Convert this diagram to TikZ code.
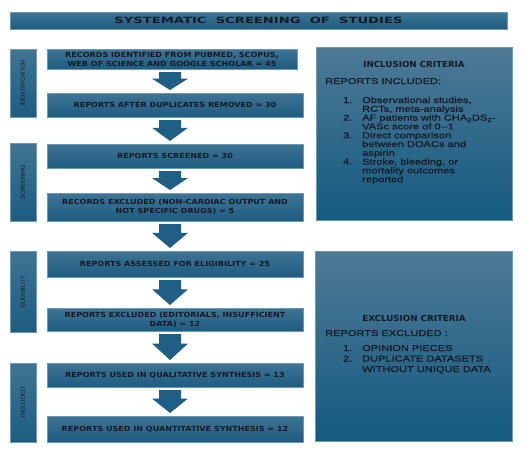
\documentclass[tikz,border=0pt]{standalone}
\usepackage{fontspec}
\setmainfont{Liberation Sans}
\newfontfamily\boxfont[FakeStretch=1.15]{DejaVu Sans}
\newfontfamily\titlefont[FakeStretch=1.2]{DejaVu Sans}
\newfontfamily\sidefont[FakeStretch=1.3, FakeBold=0.4]{Liberation Sans}
\newfontfamily\sidehead[FakeStretch=1.05]{DejaVu Sans}
\usetikzlibrary{calc}
\definecolor{boxtop}{HTML}{3F7494}
\definecolor{boxbot}{HTML}{1D5C81}
\definecolor{edgec}{HTML}{6C9AB6}
\definecolor{arrowc}{HTML}{1F5F86}
\definecolor{txt}{HTML}{161A24}
\definecolor{sidetop}{HTML}{4E7A96}
\definecolor{sidebot}{HTML}{145A80}
\newcommand\blockarrow[2]{%
  \coordinate (bt) at ($(#1.south -| ax)+(0,3)$);
  \coordinate (bh) at ($(#2.north -| ax)+(0,-3)$);
  \coordinate (bm) at ($(bt)!0.37!(bh)$);
  \fill[arrowc] ($(bt)+(-11,0)$) -- ($(bt)+(11,0)$) -- ($(bm)+(11,0)$) -- ($(bm)+(18,0)$)
    -- (bh) -- ($(bm)+(-18,0)$) -- ($(bm)+(-11,0)$) -- cycle;}
\begin{document}
\begin{tikzpicture}[x=1pt,y=-1pt,
  bluebox/.style={rectangle, inner sep=0pt, outer sep=0pt, top color=boxtop, bottom color=boxbot, draw=edgec, line width=0.5pt, text=txt},
  mainbox/.style={bluebox, align=center, font=\boxfont\bfseries\fontsize{7}{9}\selectfont},
  phasebox/.style={bluebox, minimum width=26pt, font=\fontsize{5.8}{7}\selectfont},
  sidebox/.style={rectangle, inner sep=0pt, outer sep=0pt, top color=sidetop, bottom color=sidebot, draw=edgec, line width=0.5pt},
  sidetext/.style={text=txt, inner sep=0pt, font=\sidefont\fontsize{8.5}{8.8}\selectfont},
  headtext/.style={text=txt, inner sep=0pt, font=\sidehead\bfseries\fontsize{8.3}{10}\selectfont},
]
\useasboundingbox[fill=white] (0,0) rectangle (528,461);
\coordinate (ax) at (170,0);

% title
\node[bluebox, minimum width=497pt, minimum height=17pt, font=\titlefont\bfseries\fontsize{9}{10}\selectfont] (title) at (258.5,20.5) {\resizebox{288pt}{6.4pt}{SYSTEMATIC\ \ SCREENING\ \ OF\ \ STUDIES}};

% phase boxes
\node[phasebox, minimum height=68pt] (p1) at (23,83) {\rotatebox{90}{IDENTIFICATION}};
\node[phasebox, minimum height=78pt] (p2) at (23,182) {\rotatebox{90}{SCREENING}};
\node[phasebox, minimum height=81pt] (p3) at (23,291.5) {\rotatebox{90}{ELIGIBILITY}};
\node[phasebox, minimum height=79pt] (p4) at (23,402.5) {\rotatebox{90}{INCLUDED}};

% main boxes
\node[mainbox, minimum width=250pt, minimum height=20pt] (b1) at (172,59) {RECORDS IDENTIFIED FROM PUBMED, SCOPUS,\\WEB OF SCIENCE AND GOOGLE SCHOLAR = 45};
\node[mainbox, minimum width=256pt, minimum height=24pt] (b2) at (175,105) {REPORTS AFTER DUPLICATES REMOVED = 30};
\node[mainbox, minimum width=256pt, minimum height=24pt] (b3) at (175,156) {REPORTS SCREENED = 30};
\node[mainbox, minimum width=256pt, minimum height=28pt] (b4) at (175,207) {RECORDS EXCLUDED (NON-CARDIAC OUTPUT AND\\NOT SPECIFIC DRUGS) = 5};
\node[mainbox, minimum width=256pt, minimum height=26pt] (b5) at (175,264) {REPORTS ASSESSED FOR ELIGIBILITY = 25};
\node[mainbox, minimum width=256pt, minimum height=23pt] (b6) at (175,319.5) {REPORTS EXCLUDED (EDITORIALS, INSUFFICIENT\\DATA) = 12};
\node[mainbox, minimum width=256pt, minimum height=24pt] (b7) at (175,375) {REPORTS USED IN QUALITATIVE SYNTHESIS = 13};
\node[mainbox, minimum width=256pt, minimum height=26pt] (b8) at (175,429) {REPORTS USED IN QUANTITATIVE SYNTHESIS = 12};

\blockarrow{b1}{b2}
\blockarrow{b2}{b3}
\blockarrow{b3}{b4}
\blockarrow{b4}{b5}
\blockarrow{b5}{b6}
\blockarrow{b6}{b7}
\blockarrow{b7}{b8}

% inclusion criteria
\node[sidebox, minimum width=196pt, minimum height=173pt] (inc) at (414,133.5) {};
\node[headtext, anchor=base] (inch) at (414,67) {INCLUSION CRITERIA};
\node[sidetext, anchor=base west] (incs) at (325,84) {REPORTS INCLUDED:};
\node[sidetext, anchor=base west] (incl) at (343,103) {%
\renewcommand{\arraystretch}{1}%
\begin{tabular}[t]{@{}p{19pt}@{}l@{}}
1. & Observational studies,\\
   & RCTs, meta-analysis\\
2. & AF patients with CHA\textsubscript{2}DS\textsubscript{2}-\\
   & VASc score of 0--1\\
3. & Direct comparison\\
   & between DOACs and\\
   & aspirin\\
4. & Stroke, bleeding, or\\
   & mortality outcomes\\
   & reported
\end{tabular}};

% exclusion criteria
\node[sidebox, minimum width=197pt, minimum height=190pt] (exc) at (413.5,346) {};
\node[headtext, anchor=base] (exch) at (414,321) {EXCLUSION CRITERIA};
\node[sidetext, anchor=base west] (excs) at (325,336) {REPORTS EXCLUDED :};
\node[sidetext, anchor=base west, font=\sidefont\fontsize{8.5}{10.5}\selectfont] (excl) at (343,351) {%
\renewcommand{\arraystretch}{1}%
\begin{tabular}[t]{@{}p{19pt}@{}l@{}}
1. & OPINION PIECES\\
2. & DUPLICATE DATASETS\\
   & WITHOUT UNIQUE DATA
\end{tabular}};
\end{tikzpicture}
\end{document}
